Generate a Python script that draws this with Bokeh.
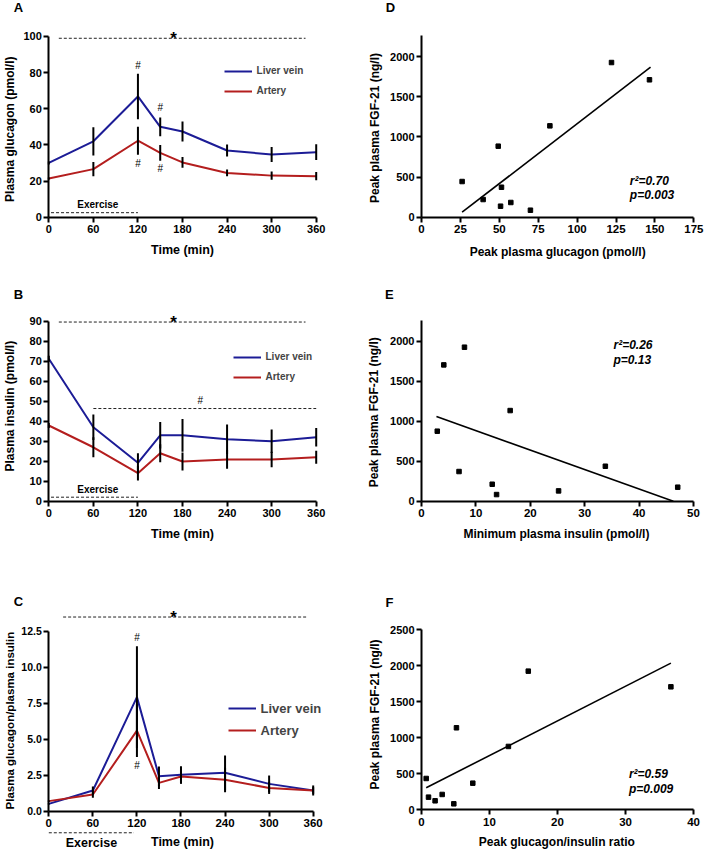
import math
from bokeh.plotting import figure
from bokeh.models import Range1d, FixedTicker, NumeralTickFormatter, Legend, LegendItem
from bokeh.layouts import column, row
from bokeh.embed import file_html
from bokeh.resources import INLINE
from bokeh.core.properties import value

FONT = "Liberation Sans"
BLUE = "#1c1c96"
RED = "#b41e1e"

# ---------------- data ----------------
time_min = [0, 60, 120, 150, 180, 240, 300, 360]
time_ticks = [0, 60, 120, 180, 240, 300, 360]

glucagon_liver = [30.0, 42.0, 66.8, 50.0, 47.4, 36.9, 34.7, 36.0]
glucagon_liver_sem = [0.8, 7.8, 12.6, 5.2, 5.5, 3.3, 4.1, 4.3]
glucagon_artery = [21.4, 26.6, 42.3, 35.6, 30.3, 24.5, 23.0, 22.7]
glucagon_artery_sem = [0.6, 3.9, 7.8, 4.4, 3.0, 1.9, 2.3, 2.3]

insulin_liver = [71.3, 37.0, 19.2, 33.0, 33.0, 31.0, 30.0, 32.0]
insulin_liver_sem = [1.5, 6.4, 4.8, 6.6, 8.2, 7.4, 5.9, 4.6]
insulin_artery = [37.9, 27.0, 14.0, 24.0, 19.9, 20.9, 20.9, 22.0]
insulin_artery_sem = [1.2, 5.0, 3.6, 4.5, 4.5, 4.7, 3.9, 3.3]

ratio_liver = [0.51, 1.44, 7.93, 2.43, 2.53, 2.67, 1.90, 1.44]
ratio_liver_sem = [0.05, 0.28, 3.53, 0.68, 0.60, 1.20, 0.58, 0.23]
ratio_artery = [0.70, 1.16, 5.60, 1.97, 2.41, 2.18, 1.62, 1.44]
ratio_artery_sem = [0.05, 0.23, 1.84, 0.42, 0.50, 0.86, 0.42, 0.35]

glucagon_peak = [26.1, 39.6, 49.3, 50.8, 51.4, 57.4, 70.0, 82.5, 122.1, 146.5]
fgf21_d = [444, 220, 884, 137, 373, 183, 87, 1137, 1925, 1710]
insulin_min = [2.9, 4.1, 7.9, 6.9, 13.0, 13.8, 16.3, 25.2, 33.8, 47.1]
fgf21_e = [875, 1704, 1925, 371, 212, 83, 1133, 129, 437, 175]
ratio_peak = [0.69, 1.03, 2.0, 3.04, 4.75, 5.14, 7.54, 12.78, 15.7, 36.67]
fgf21_f = [435, 176, 125, 213, 83, 1139, 370, 880, 1926, 1708]

fit_d_x = [26.1, 147.2]
fit_d_y = [62, 1867]
fit_e_x = [2.75, 46.3]
fit_e_y = [1058, 0]
fit_f_x = [0.69, 36.67]
fit_f_y = [306, 2037]

stats_d = ["r\u00b2=0.70", "p=0.003"]
stats_e = ["r\u00b2=0.26", "p=0.13"]
stats_f = ["r\u00b2=0.59", "p=0.009"]

# significance / exercise dashed lines (x extent, y level) in data units
sig_a = ([13.5, 345.6], 99.0)
sig_b = ([13.5, 345.6], 89.7)
sig_b2 = ([60, 360], 46.4)
sig_c = ([19.5, 352.7], 13.5)
ex_a = ([3, 120], 2.5)
ex_b = ([3, 120], 2.0)
ex_c = ([0, 116], -1.5)


def make_fig(w, h, xr, yr):
    p = figure(width=w, height=h, x_range=Range1d(*xr), y_range=Range1d(*yr),
               min_border=0, title=None, output_backend="svg", toolbar_location=None)
    p.outline_line_color = None
    p.grid.visible = False
    p.background_fill_color = "white"
    p.border_fill_color = "white"
    for ax in p.axis:
        ax.fixed_location = 0
        ax.axis_line_width = 2
        ax.axis_line_color = "black"
        ax.major_tick_line_width = 2
        ax.major_tick_line_color = "black"
        ax.major_tick_in = 0
        ax.major_tick_out = 5
        ax.minor_tick_line_color = None
        ax.major_label_text_font = FONT
        ax.major_label_text_font_style = "bold"
        ax.major_label_text_color = "black"
        ax.major_label_text_font_size = "11px"
    p.xaxis.major_label_standoff = 3
    p.yaxis.major_label_standoff = 2
    return p


def add_text(p, x, y, text, size, style="bold", align="center", baseline="middle", angle=0.0):
    p.text(x=[x], y=[y], text=[text], text_font=value(FONT), text_font_size=size,
           text_font_style=style, text_align=align, text_baseline=baseline,
           text_color="black", angle=angle)


def dashed(p, xs, y):
    p.line(xs, [y, y], line_color="#222222", line_width=1, line_dash="3 2")


def time_panel(p, liver, liver_sem, artery, artery_sem, legend_loc, legend_h, legend_size):
    lv = p.line(time_min, liver, line_color=BLUE, line_width=2)
    ar = p.line(time_min, artery, line_color=RED, line_width=2)
    for vals, sems in ((liver, liver_sem), (artery, artery_sem)):
        p.segment(x0=time_min, x1=time_min,
                  y0=[v - s for v, s in zip(vals, sems)],
                  y1=[v + s for v, s in zip(vals, sems)],
                  line_color="black", line_width=2)
    leg = Legend(items=[LegendItem(label="Liver vein", renderers=[lv]),
                        LegendItem(label="Artery", renderers=[ar])],
                 location=legend_loc, padding=0, margin=0, spacing=0,
                 glyph_width=28, glyph_height=legend_h, label_height=legend_h,
                 label_standoff=5, border_line_color=None, background_fill_alpha=0,
                 label_text_font=FONT, label_text_font_style="bold",
                 label_text_font_size=legend_size)
    p.add_layout(leg)
    p.xaxis.ticker = FixedTicker(ticks=time_ticks)
    p.xaxis.bounds = (0, 360)


# ---------------- Panel A ----------------
pA = make_fig(353, 280, (-65.02, 410.2), (-35.03, 119.9))
time_panel(pA, glucagon_liver, glucagon_liver_sem, glucagon_artery, glucagon_artery_sem,
           (223.6, 179.3), 20, "10px")
pA.yaxis.ticker = FixedTicker(ticks=[0, 20, 40, 60, 80, 100])
pA.yaxis.bounds = (0, 100)
dashed(pA, *sig_a)
dashed(pA, *ex_a)
add_text(pA, 168, sig_a[1], "*", "17px", baseline="alphabetic")
for (x, y) in [(120, 84.0), (150, 60.5), (120, 29.9), (150, 26.8)]:
    add_text(pA, x, y, "#", "10px", style="normal")
add_text(pA, 66, 7.0, "Exercise", "10px")
add_text(pA, 180, -18.0, "Time (min)", "12.5px")
add_text(pA, -52.9, 49.6, "Plasma glucagon  (pmol/l)", "12px", angle=math.pi / 2)
add_text(pA, -40.8, 116.0, "A", "13px")

# ---------------- Panel B ----------------
pB = make_fig(353, 280, (-65.02, 410.2), (-29.7, 110.5))
time_panel(pB, insulin_liver, insulin_liver_sem, insulin_artery, insulin_artery_sem,
           (232.5, 173.3), 20, "10px")
pB.yaxis.ticker = FixedTicker(ticks=list(range(0, 91, 10)))
pB.yaxis.bounds = (0, 90)
dashed(pB, *sig_b)
dashed(pB, *sig_b2)
dashed(pB, *ex_b)
add_text(pB, 168, sig_b[1], "*", "17px", baseline="alphabetic")
add_text(pB, 204, 50.4, "#", "10px", style="normal")
add_text(pB, 66, 5.8, "Exercise", "10px")
add_text(pB, 180, -16.3, "Time (min)", "12.5px")
add_text(pB, -52.9, 48.4, "Plasma insulin  (pmol/l)", "12px", angle=math.pi / 2)
add_text(pB, -40.8, 103.5, "B", "13px")

# ---------------- Panel C ----------------
pC = make_fig(353, 290, (-65.77, 414.9), (-2.733, 17.43))
time_panel(pC, ratio_liver, ratio_liver_sem, ratio_artery, ratio_artery_sem,
           (227.5, 109), 22, "13px")
pC.yaxis.ticker = FixedTicker(ticks=[0, 2.5, 5, 7.5, 10, 12.5])
pC.yaxis.formatter = NumeralTickFormatter(format="0.0")
pC.yaxis.bounds = (0, 12.5)
pC.yaxis.major_label_text_font_size = "10.5px"
pC.xaxis.major_label_text_font_size = "11.5px"
dashed(pC, *sig_c)
dashed(pC, *ex_c)
add_text(pC, 170, sig_c[1], "*", "17px", baseline="alphabetic")
add_text(pC, 120, 12.06, "#", "10px", style="normal")
add_text(pC, 120, 3.18, "#", "10px", style="normal")
add_text(pC, 58, -2.2, "Exercise", "12.5px")
add_text(pC, 182, -2.16, "Time (min)", "12.5px")
add_text(pC, -53.5, 6.3, "Plasma glucagon/plasma insulin", "11.5px", angle=math.pi / 2)
add_text(pC, -41.3, 14.58, "C", "13px")


# ---------------- scatter panels ----------------
def scatter_panel(p, xs, ys, fx, fy, stats, sx, sy):
    p.line(fx, fy, line_color="black", line_width=1.6)
    p.scatter(xs, ys, marker="square", size=4.5, fill_color="black", line_color="black")
    add_text(p, sx, sy[0], stats[0], "12px", style="bold italic", align="left")
    add_text(p, sx, sy[1], stats[1], "12px", style="bold italic", align="left")
    p.xaxis.major_label_text_font_size = "11.5px"


pD = make_fig(352, 280, (-43.7, 182.5), (-787.8, 2697))
scatter_panel(pD, glucagon_peak, fgf21_d, fit_d_x, fit_d_y, stats_d, 133.9, [456, 278])
pD.xaxis.ticker = FixedTicker(ticks=[0, 25, 50, 75, 100, 125, 150, 175])
pD.xaxis.bounds = (0, 175)
pD.yaxis.ticker = FixedTicker(ticks=[0, 500, 1000, 1500, 2000])
pD.yaxis.bounds = (0, 2260)
add_text(pD, 87.5, -427, "Peak plasma glucagon (pmol/l)", "12px")
add_text(pD, -30.2, 1110, "Peak plasma FGF-21 (ng/l)", "12px", angle=math.pi / 2)
add_text(pD, -19.9, 2610, "D", "13px")

pE = make_fig(352, 280, (-12.5, 52.21), (-741.3, 2758.8))
scatter_panel(pE, insulin_min, fgf21_e, fit_e_x, fit_e_y, stats_e, 35.3, [1958, 1767])
pE.xaxis.ticker = FixedTicker(ticks=[0, 10, 20, 30, 40, 50])
pE.xaxis.bounds = (0, 50)
pE.yaxis.ticker = FixedTicker(ticks=[0, 500, 1000, 1500, 2000])
pE.yaxis.bounds = (0, 2260)
add_text(pE, 24.8, -416, "Minimum plasma insulin (pmol/l)", "12px")
add_text(pE, -8.64, 1112, "Peak plasma FGF-21 (ng/l)", "12px", angle=math.pi / 2)
add_text(pE, -5.9, 2584, "E", "13px")

pF = make_fig(352, 290, (-10.0, 41.76), (-565.3, 3462.5))
scatter_panel(pF, ratio_peak, fgf21_f, fit_f_x, fit_f_y, stats_f, 30.5, [500, 292])
pF.xaxis.ticker = FixedTicker(ticks=[0, 10, 20, 30, 40])
pF.xaxis.bounds = (0, 40)
pF.yaxis.ticker = FixedTicker(ticks=[0, 500, 1000, 1500, 2000, 2500])
pF.yaxis.bounds = (0, 2500)
add_text(pF, 19.9, -450, "Peak glucagon/insulin ratio", "12px")
add_text(pF, -6.9, 1324, "Peak plasma FGF-21 (ng/l)", "12px", angle=math.pi / 2)
add_text(pF, -4.7, 2883, "F", "13px")

layout = column(row(pA, pD), row(pB, pE), row(pC, pF))
open("out.html", "w").write(file_html(layout, INLINE))
